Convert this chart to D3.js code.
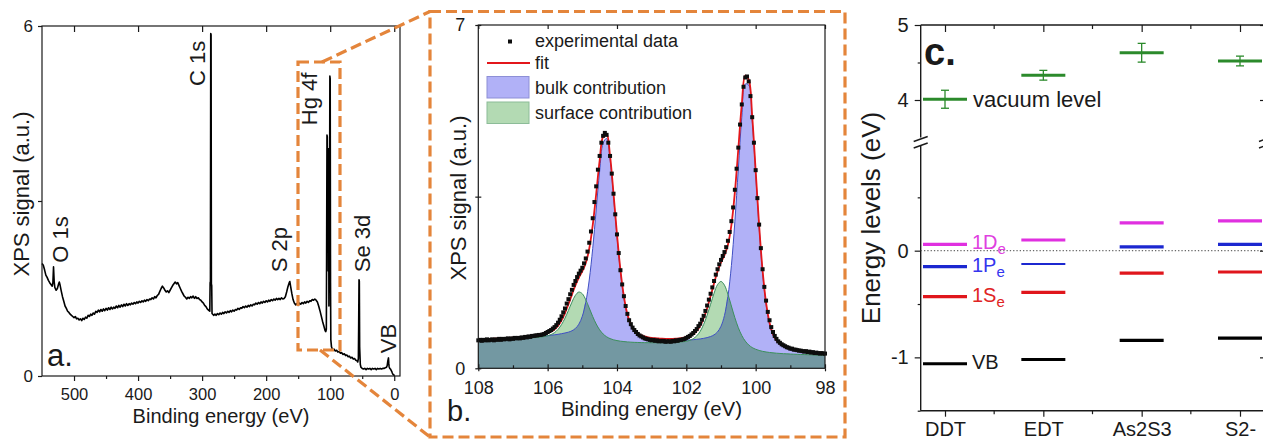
<!DOCTYPE html>
<html>
<head>
<meta charset="utf-8">
<script src="https://cdn.jsdelivr.net/npm/d3@7/dist/d3.min.js"></script>
<style>
  html, body { margin: 0; padding: 0; background: #fff; }
  svg { display: block; }
</style>
</head>
<body>
<svg id="figure" width="1263" height="443"></svg>
<script>
// ---------------- (a) XPS survey spectrum: [binding energy (eV), signal (a.u.)] ----------------
const surveyPoints = [
  [550,1.93],[548,1.90],[546,1.82],[544,1.73],[542,1.69],[540,1.64],[538,1.60],[536,1.57],[534,1.54],[533,1.60],
  [532,1.87],[531,1.62],[530,1.52],[528,1.47],[526,1.50],[524,1.58],[523,1.61],[522,1.57],[520,1.46],[518,1.36],
  [516,1.28],[514,1.20],[512,1.16],[510,1.11],[508,1.09],[506,1.06],[504,1.04],[502,1.02],[500,1.00],[498,1.02],
  [496,0.98],[494,0.99],[492,0.96],[490,0.98],[488,0.95],[486,0.99],[484,0.97],[482,1.01],[480,0.99],[478,1.04],
  [476,1.02],[474,1.06],[472,1.04],[470,1.08],[468,1.06],[466,1.11],[464,1.09],[462,1.13],[460,1.10],[458,1.14],
  [456,1.11],[454,1.15],[452,1.12],[450,1.16],[448,1.13],[446,1.17],[444,1.14],[442,1.18],[440,1.15],[438,1.18],
  [436,1.16],[434,1.20],[432,1.17],[430,1.21],[428,1.18],[426,1.22],[424,1.19],[422,1.23],[420,1.20],[418,1.24],
  [416,1.21],[414,1.24],[412,1.22],[410,1.25],[408,1.23],[406,1.26],[404,1.24],[402,1.27],[400,1.25],[398,1.28],
  [396,1.26],[394,1.29],[392,1.27],[390,1.30],[388,1.28],[386,1.31],[384,1.29],[382,1.32],[380,1.31],[378,1.34],
  [376,1.32],[374,1.36],[372,1.34],[370,1.38],[368,1.40],[366,1.45],[364,1.50],[362,1.54],[360,1.51],[358,1.47],
  [356,1.44],[354,1.46],[352,1.43],[350,1.47],[348,1.51],[346,1.55],[344,1.58],[342,1.61],[340,1.58],[338,1.60],
  [336,1.55],[334,1.50],[332,1.45],[330,1.41],[328,1.37],[326,1.35],[324,1.32],[322,1.35],[320,1.33],[318,1.36],
  [316,1.34],[314,1.37],[312,1.33],[310,1.36],[308,1.33],[306,1.34],[304,1.31],[302,1.30],[300,1.27],[298,1.25],
  [296,1.21],[294,1.19],[292,1.15],[290,1.13],[288,1.11],[287.5,1.60],[287,1.62],[286.5,5.87],[286,5.85],[285.5,1.58],
  [285,1.55],[284.5,1.07],[282,1.04],[280,1.06],[278,1.04],[276,1.07],[274,1.05],[272,1.08],[270,1.06],[268,1.09],
  [266,1.07],[264,1.10],[262,1.08],[260,1.11],[258,1.09],[256,1.12],[254,1.10],[252,1.13],[250,1.11],[248,1.14],
  [246,1.13],[244,1.16],[242,1.14],[240,1.17],[238,1.16],[236,1.19],[234,1.17],[232,1.20],[230,1.18],[228,1.21],
  [226,1.19],[224,1.22],[222,1.20],[220,1.23],[218,1.22],[216,1.25],[214,1.23],[212,1.26],[210,1.24],[208,1.27],
  [206,1.25],[204,1.28],[202,1.26],[200,1.29],[198,1.27],[196,1.30],[194,1.28],[192,1.31],[190,1.29],[188,1.32],
  [186,1.30],[184,1.33],[182,1.31],[180,1.33],[178,1.31],[176,1.34],[174,1.32],[172,1.33],[170,1.36],[168,1.44],
  [166,1.53],[164,1.60],[163,1.62],[162,1.55],[160,1.42],[158,1.31],[156,1.25],[154,1.22],[152,1.24],[150,1.21],
  [148,1.25],[146,1.23],[144,1.26],[142,1.24],[140,1.27],[138,1.25],[136,1.28],[134,1.26],[132,1.29],[130,1.28],
  [128,1.31],[126,1.30],[124,1.32],[122,1.30],[120,1.27],[118,1.20],[116,1.12],[114,1.03],[112,0.94],[110,0.86],
  [108,0.78],[107,0.76],[106,0.80],[105.5,2.40],[105,4.13],[104.5,4.10],[104,2.60],[103.5,3.90],[103,1.80],[102.5,3.80],
  [102,1.20],[101.5,3.90],[101,2.80],[100.5,5.14],[100,5.10],[99.5,1.60],[99,0.62],[98,0.50],[97,0.47],[96,0.45],
  [94,0.46],[92,0.43],[90,0.44],[88,0.41],[86,0.42],[84,0.39],[82,0.40],[80,0.37],[78,0.38],[76,0.35],
  [74,0.36],[72,0.33],[70,0.34],[68,0.31],[66,0.32],[64,0.29],[62,0.30],[60,0.27],[58,0.26],[57,0.24],
  [56,0.30],[55.5,0.90],[55,1.65],[54.5,1.62],[54,0.50],[53,0.20],[52,0.15],[50,0.13],[48,0.12],[46,0.13],
  [44,0.11],[42,0.13],[40,0.12],[38,0.13],[36,0.11],[34,0.13],[32,0.12],[30,0.13],[28,0.11],[26,0.13],
  [24,0.12],[22,0.13],[20,0.12],[18,0.13],[16,0.13],[14,0.14],[12,0.15],[11,0.18],[10,0.26],[9,0.31],
  [8.5,0.22],[8,0.16],[7,0.13],[6,0.12],[5,0.10],[4,0.08],[3,0.05],[2,0.03],[1,0.02],[0,0.01],[-1,0.01]
];
const surveyTicks = [500, 400, 300, 200, 100, 0];
const surveyMinorTicks = [450, 350, 250, 150, 50];
const surveySignalTicks = [0, 3, 6];
const surveyLabels = ['O 1s', 'C 1s', 'S 2p', 'Hg 4f', 'Se 3d', 'VB'];
const surveyLabelEnergy = [509.4, 295.5, 167.4, 120.6, 37.8, -2.8];
const surveyLabelSignal = [1.94, 4.97, 1.78, 4.30, 1.78, 0.39];

// ---------------- (b) Hg 4f core level with bulk / surface components ----------------
const coreEnergy = d3.range(101).map(i => +(108 - i * 0.1).toFixed(2));
const bulkSignal = [
  .584,.586,.589,.591,.594,.597,.600,.604,.607,.610,
  .614,.617,.621,.625,.629,.635,.640,.646,.652,.658,
  .665,.674,.683,.693,.706,.720,.737,.765,.812,.899,
  1.061,1.346,1.801,2.444,3.228,4.019,4.589,4.688,4.267,3.516,
  2.692,1.970,1.432,1.076,.865,.748,.684,.648,.627,.610,
  .599,.591,.584,.578,.574,.572,.570,.570,.571,.572,
  .575,.579,.584,.591,.599,.611,.626,.648,.682,.742,
  .857,1.076,1.465,2.095,2.988,4.063,5.117,5.796,5.776,5.061,
  3.974,2.871,1.955,1.307,.903,.673,.548,.480,.439,.411,
  .390,.373,.359,.348,.338,.329,.320,.313,.307,.301,.296
];
const surfaceSignal = [
  .576,.578,.581,.583,.585,.588,.590,.593,.595,.598,
  .601,.605,.608,.612,.615,.620,.624,.630,.637,.647,
  .663,.688,.728,.793,.891,1.022,1.181,1.349,1.488,1.555,
  1.520,1.397,1.229,1.056,.904,.785,.700,.643,.606,.581,
  .565,.553,.545,.538,.533,.529,.527,.524,.523,.522,
  .521,.521,.522,.522,.523,.525,.527,.529,.534,.541,
  .551,.569,.603,.661,.754,.894,1.082,1.305,1.530,1.705,
  1.771,1.695,1.508,1.270,1.032,.828,.669,.555,.476,.423,
  .389,.364,.346,.333,.323,.315,.308,.303,.298,.295,
  .291,.288,.285,.282,.280,.277,.274,.272,.269,.267,.264
];
const fitSignal = [
  .590,.592,.596,.598,.601,.605,.608,.613,.616,.620,
  .625,.630,.635,.641,.646,.655,.662,.672,.683,.697,
  .718,.750,.797,.871,.981,1.127,1.305,1.503,1.692,1.849,
  1.980,2.147,2.439,2.915,3.554,4.234,4.728,4.779,4.330,3.563,
  2.731,2.003,1.462,1.103,.890,.772,.708,.670,.649,.632,
  .621,.613,.608,.603,.601,.601,.602,.605,.611,.620,
  .634,.657,.697,.763,.866,1.020,1.225,1.473,1.735,1.974,
  2.159,2.308,2.518,2.919,3.586,4.471,5.383,5.966,5.886,5.136,
  4.030,2.915,1.991,1.338,.930,.697,.569,.499,.456,.427,
  .404,.386,.371,.359,.349,.339,.329,.322,.315,.305,.302
];
const dataEnergy = d3.range(201).map(i => +(108 - i * 0.05).toFixed(2));
const dataSignal = [
  .57,.58,.56,.58,.57,.59,.57,.58,.59,.57,
  .59,.58,.60,.58,.60,.59,.60,.61,.59,.61,
  .60,.62,.61,.62,.61,.63,.62,.64,.63,.65,
  .64,.66,.66,.67,.67,.68,.68,.69,.70,.72,
  .74,.76,.78,.81,.84,.88,.93,.99,1.06,1.14,
  1.22,1.32,1.41,1.51,1.60,1.70,1.78,1.86,1.93,1.99,
  2.05,2.14,2.24,2.38,2.56,2.79,3.06,3.39,3.71,4.05,
  4.33,4.60,4.74,4.80,4.76,4.60,4.33,3.97,3.56,3.14,
  2.73,2.35,2.00,1.71,1.47,1.27,1.11,.98,.90,.83,
  .78,.74,.70,.67,.65,.63,.61,.60,.59,.58,
  .57,.58,.56,.57,.55,.56,.55,.56,.54,.55,
  .55,.54,.56,.55,.57,.56,.58,.58,.59,.60,
  .62,.64,.66,.69,.72,.76,.80,.86,.91,.99,
  1.07,1.17,1.28,1.40,1.52,1.65,1.78,1.91,2.02,2.12,
  2.21,2.29,2.37,2.47,2.60,2.78,3.00,3.28,3.64,4.07,
  4.50,4.97,5.38,5.74,5.93,5.95,5.85,5.55,5.12,4.60,
  4.04,3.47,2.93,2.45,2.02,1.66,1.38,1.15,.98,.84,
  .74,.66,.60,.55,.52,.49,.47,.45,.43,.42,
  .40,.40,.38,.38,.37,.36,.36,.35,.34,.35,
  .33,.34,.32,.33,.31,.32,.31,.30,.31,.30,
  .30
];
const coreTicks = [108, 106, 104, 102, 100, 98];
const coreMinorTicks = [107, 105, 103, 101, 99];
const coreSignalTicks = [0, 3.5, 7];
const legendLabels = ['experimental data', 'fit', 'bulk contribution', 'surface contribution'];

// ---------------- (c) energy levels per ligand ----------------
const ligands = ['DDT', 'EDT', 'As2S3', 'S2-'];
const vacuumLevel = [4.01, 4.33, 4.63, 4.52];
const vacuumError = [0.12, 0.065, 0.125, 0.065];
const level1De = [0.06, 0.10, 0.26, 0.28];
const level1Pe = [-0.15, -0.125, 0.035, 0.06];
const level1Se = [-0.43, -0.39, -0.21, -0.20];
const levelVB = [-1.06, -1.02, -0.84, -0.82];
const upperTicks = [4, 5];
const upperMinorTicks = [4.5];
const lowerTicks = [-1, 0];
const lowerMinorTicks = [-1.5, -0.5, 0.5];

// ================================================================
const FONT = '"Liberation Sans", Arial, Helvetica, sans-serif';
const INK = '#1a1a1a';
const ORANGE = '#e4853b';
const svg = d3.select('#figure');

function styleAxis(g, size) {
  g.attr('font-family', FONT).attr('font-size', size);
  g.select('.domain').remove();
  g.selectAll('.tick line').attr('stroke', INK).attr('stroke-width', 1.2);
  g.selectAll('.tick text').attr('fill', INK);
  return g;
}

// ---------------- panel a ----------------
const gA = svg.append('g');
const xA = d3.scaleLinear().domain([550, -9]).range([42, 400]);
const yA = d3.scaleLinear().domain([0, 6]).range([376, 26]);

gA.append('path')
  .datum(surveyPoints)
  .attr('fill', 'none').attr('stroke', '#000').attr('stroke-width', 1.6)
  .attr('stroke-linejoin', 'round')
  .attr('d', d3.line().x(d => xA(d[0])).y(d => yA(d[1])));

gA.append('g').attr('transform', 'translate(0,376)')
  .call(d3.axisBottom(xA).tickValues(surveyTicks).tickSize(5).tickPadding(7.5).tickFormat(d3.format('d')))
  .call(g => styleAxis(g, 16.5));
gA.append('g').attr('transform', 'translate(0,376)')
  .call(d3.axisBottom(xA).tickValues(surveyMinorTicks).tickSize(3).tickFormat(''))
  .call(g => styleAxis(g, 16.5));
gA.append('g').attr('transform', 'translate(0,26)')
  .call(d3.axisTop(xA).tickValues(surveyTicks).tickSize(-6).tickFormat(''))
  .call(g => styleAxis(g, 16.5));
gA.append('g').attr('transform', 'translate(42,0)')
  .call(d3.axisLeft(yA).tickValues(surveySignalTicks).tickSize(4).tickPadding(5)
    .tickFormat(d => (d === 3 ? '' : String(d))))
  .call(g => styleAxis(g, 17));
gA.append('rect').attr('x', 42).attr('y', 26).attr('width', 358).attr('height', 350)
  .attr('fill', 'none').attr('stroke', INK).attr('stroke-width', 1.2);

surveyLabels.forEach((t, i) => {
  gA.append('text')
    .attr('transform', `translate(${xA(surveyLabelEnergy[i])},${yA(surveyLabelSignal[i])}) rotate(-90)`)
    .attr('font-family', FONT).attr('font-size', 22).attr('fill', INK)
    .text(t);
});
gA.append('text').attr('x', 47).attr('y', 366).attr('font-family', FONT)
  .attr('font-size', 31).attr('fill', INK).text('a.');
gA.append('text').attr('x', 221).attr('y', 422.5).attr('text-anchor', 'middle')
  .attr('font-family', FONT).attr('font-size', 20).attr('fill', INK).text('Binding energy (eV)');
gA.append('text').attr('transform', 'translate(29,194) rotate(-90)').attr('text-anchor', 'middle')
  .attr('font-family', FONT).attr('font-size', 22).attr('fill', INK).text('XPS signal (a.u.)');

// ---------------- panel b ----------------
const gB = svg.append('g');
const xB = d3.scaleLinear().domain([108, 98]).range([478.3, 825]);
const yB = d3.scaleLinear().domain([0, 7]).range([368.3, 25]);
const curve = d3.curveCatmullRom.alpha(0.5);
const areaFrom = acc => d3.area().x((d, i) => xB(coreEnergy[i])).y0(yB(0)).y1((d, i) => yB(acc(i))).curve(curve);
const lineFrom = acc => d3.line().x((d, i) => xB(coreEnergy[i])).y((d, i) => yB(acc(i))).curve(curve);

gB.append('path').datum(coreEnergy).attr('fill', '#b1b1f7').attr('d', areaFrom(i => bulkSignal[i]));
gB.append('path').datum(coreEnergy).attr('fill', '#b3dab3').attr('d', areaFrom(i => surfaceSignal[i]));
gB.append('path').datum(coreEnergy).attr('fill', '#7398a2')
  .attr('d', areaFrom(i => Math.min(bulkSignal[i], surfaceSignal[i])));
gB.append('path').datum(coreEnergy).attr('fill', 'none').attr('stroke', '#3f4fc4').attr('stroke-width', 1)
  .attr('d', lineFrom(i => bulkSignal[i]));
gB.append('path').datum(coreEnergy).attr('fill', 'none').attr('stroke', '#3c8e5e').attr('stroke-width', 1)
  .attr('d', lineFrom(i => surfaceSignal[i]));
gB.append('path').datum(coreEnergy).attr('fill', 'none').attr('stroke', '#e3171b').attr('stroke-width', 1.8)
  .attr('d', lineFrom(i => fitSignal[i]));
gB.append('g').selectAll('rect').data(dataSignal).join('rect')
  .attr('x', (d, i) => xB(dataEnergy[i]) - 2).attr('y', d => yB(d) - 2)
  .attr('width', 4).attr('height', 4).attr('fill', '#0d0d0d');

gB.append('g').attr('transform', 'translate(0,368.3)')
  .call(d3.axisBottom(xB).tickValues(coreTicks).tickSize(3).tickPadding(10).tickFormat(d3.format('d')))
  .call(g => styleAxis(g, 18));
gB.append('g').attr('transform', 'translate(0,368.3)')
  .call(d3.axisTop(xB).tickValues(coreTicks).tickSize(4).tickFormat(''))
  .call(g => styleAxis(g, 18));
gB.append('g').attr('transform', 'translate(0,368.3)')
  .call(d3.axisTop(xB).tickValues(coreMinorTicks).tickSize(3).tickFormat(''))
  .call(g => styleAxis(g, 18));
gB.append('g').attr('transform', 'translate(0,25)')
  .call(d3.axisTop(xB).tickValues(coreTicks).tickSize(-4).tickFormat(''))
  .call(g => styleAxis(g, 18));
gB.append('g').attr('transform', 'translate(478.3,0)')
  .call(d3.axisLeft(yB).tickValues(coreSignalTicks).tickSize(3).tickPadding(10)
    .tickFormat(d => (d === 3.5 ? '' : String(d))))
  .call(g => styleAxis(g, 18));
gB.append('g').attr('transform', 'translate(478.3,0)')
  .call(d3.axisRight(yB).tickValues(coreSignalTicks).tickSize(3).tickFormat(''))
  .call(g => styleAxis(g, 18));
gB.append('rect').attr('x', 478.3).attr('y', 25).attr('width', 346.7).attr('height', 343.3)
  .attr('fill', 'none').attr('stroke', INK).attr('stroke-width', 1.2);

// legend
const legend = gB.append('g').attr('font-family', FONT).attr('font-size', 18).attr('fill', INK);
legend.append('rect').attr('x', 508).attr('y', 39.5).attr('width', 4).attr('height', 4).attr('fill', '#0d0d0d');
legend.append('line').attr('x1', 487).attr('x2', 530).attr('y1', 63).attr('y2', 63)
  .attr('stroke', '#e3171b').attr('stroke-width', 1.8);
legend.append('rect').attr('x', 487).attr('y', 76.5).attr('width', 42).attr('height', 21.5)
  .attr('fill', '#b1b1f7').attr('stroke', '#8d8fd6').attr('stroke-width', 1);
legend.append('rect').attr('x', 487).attr('y', 102).attr('width', 42).attr('height', 21.5)
  .attr('fill', '#b3dab3').attr('stroke', '#8cbc98').attr('stroke-width', 1);
const legendY = [47, 69, 94, 119];
legendLabels.forEach((t, i) => {
  legend.append('text').attr('x', 535).attr('y', legendY[i]).text(t);
});

gB.append('text').attr('x', 447).attr('y', 421).attr('font-family', FONT)
  .attr('font-size', 29).attr('fill', INK).text('b.');
gB.append('text').attr('x', 651.5).attr('y', 416).attr('text-anchor', 'middle')
  .attr('font-family', FONT).attr('font-size', 20.5).attr('fill', INK).text('Binding energy (eV)');
gB.append('text').attr('transform', 'translate(466,198) rotate(-90)').attr('text-anchor', 'middle')
  .attr('font-family', FONT).attr('font-size', 22).attr('fill', INK).text('XPS signal (a.u.)');

// ---------------- panel c ----------------
const gC = svg.append('g');
const xC = d3.scalePoint().domain(ligands).range([945, 1240]);
const yUp = d3.scaleLinear().domain([3.5, 5]).range([137.5, 25]);
const yLow = d3.scaleLinear().domain([-1.5, 1.0]).range([410.7, 144]);
const cLeft = 920.7, cRight = 1266, cTop = 25, cBottom = 410.7;

// frame pieces
gC.append('line').attr('x1', cLeft).attr('x2', cRight).attr('y1', cTop).attr('y2', cTop)
  .attr('stroke', INK).attr('stroke-width', 1.4);
gC.append('line').attr('x1', cLeft).attr('x2', cRight).attr('y1', cBottom).attr('y2', cBottom)
  .attr('stroke', INK).attr('stroke-width', 1.4);
[cLeft, cRight].forEach(x => {
  gC.append('line').attr('x1', x).attr('x2', x).attr('y1', cTop).attr('y2', yUp(3.5))
    .attr('stroke', INK).attr('stroke-width', 1.4);
  gC.append('line').attr('x1', x).attr('x2', x).attr('y1', yLow(1.0) + 1).attr('y2', cBottom)
    .attr('stroke', INK).attr('stroke-width', 1.4);
  [yUp(3.5) + 1.5, yLow(1.0) + 1.5].forEach(y => {
    gC.append('line').attr('x1', x - 7).attr('x2', x + 7).attr('y1', y + 2.5).attr('y2', y - 2.5)
      .attr('stroke', INK).attr('stroke-width', 1.5);
  });
});

// zero reference
gC.append('line').attr('x1', cLeft).attr('x2', cRight).attr('y1', yLow(0)).attr('y2', yLow(0))
  .attr('stroke', '#6a6a6a').attr('stroke-width', 1.2).attr('stroke-dasharray', '1.3,2');

// axes
gC.append('g').attr('transform', `translate(0,${cBottom})`)
  .call(d3.axisBottom(xC).tickSize(6).tickPadding(5))
  .call(g => styleAxis(g, 20));
const midpoints = ligands.slice(0, -1).map(d => xC(d) + xC.step() / 2);
gC.append('g').selectAll('line').data(midpoints).join('line')
  .attr('x1', d => d).attr('x2', d => d).attr('y1', cBottom).attr('y2', cBottom + 3.5)
  .attr('stroke', INK).attr('stroke-width', 1.2);
gC.append('g').selectAll('line').data(midpoints).join('line')
  .attr('x1', d => d).attr('x2', d => d).attr('y1', cTop).attr('y2', cTop + 4)
  .attr('stroke', INK).attr('stroke-width', 1.2);
gC.append('g').attr('transform', `translate(0,${cTop})`)
  .call(d3.axisTop(xC).tickSize(-7).tickFormat(''))
  .call(g => styleAxis(g, 20));
gC.append('g').attr('transform', `translate(${cLeft},0)`)
  .call(d3.axisLeft(yUp).tickValues(upperTicks).tickSize(6).tickPadding(6).tickFormat(d => String(d)))
  .call(g => styleAxis(g, 20));
gC.append('g').attr('transform', `translate(${cLeft},0)`)
  .call(d3.axisLeft(yUp).tickValues(upperMinorTicks).tickSize(3).tickFormat(''))
  .call(g => styleAxis(g, 20));
gC.append('g').attr('transform', `translate(${cLeft},0)`)
  .call(d3.axisLeft(yLow).tickValues(lowerTicks).tickSize(6).tickPadding(6).tickFormat(d => String(d)))
  .call(g => styleAxis(g, 20));
gC.append('g').attr('transform', `translate(${cLeft},0)`)
  .call(d3.axisLeft(yLow).tickValues(lowerMinorTicks).tickSize(3).tickFormat(''))
  .call(g => styleAxis(g, 20));
gC.append('g').attr('transform', `translate(${cRight},0)`)
  .call(d3.axisRight(yUp).tickValues(upperTicks).tickSize(-6).tickFormat(''))
  .call(g => styleAxis(g, 20));
gC.append('g').attr('transform', `translate(${cRight},0)`)
  .call(d3.axisRight(yLow).tickValues(lowerTicks).tickSize(-6).tickFormat(''))
  .call(g => styleAxis(g, 20));

// vacuum level with error bars
const GREEN = '#2b8a2b';
const halfW = 22;
ligands.forEach((d, i) => {
  const cx = xC(d);
  const gv = gC.append('g').attr('stroke', GREEN);
  gv.append('line').attr('x1', cx).attr('x2', cx)
    .attr('y1', yUp(vacuumLevel[i] + vacuumError[i])).attr('y2', yUp(vacuumLevel[i] - vacuumError[i]))
    .attr('stroke-width', 1.3);
  [vacuumLevel[i] + vacuumError[i], vacuumLevel[i] - vacuumError[i]].forEach(v => {
    gv.append('line').attr('x1', cx - 4).attr('x2', cx + 4).attr('y1', yUp(v)).attr('y2', yUp(v))
      .attr('stroke-width', 1.3);
  });
  gv.append('line').attr('x1', cx - halfW).attr('x2', cx + halfW)
    .attr('y1', yUp(vacuumLevel[i])).attr('y2', yUp(vacuumLevel[i])).attr('stroke-width', 3);
});

// quantum-confined levels
const levelSets = [
  { values: level1De, color: '#e030e0' },
  { values: level1Pe, color: '#1c28d0' },
  { values: level1Se, color: '#e0161c' },
  { values: levelVB, color: '#000000' }
];
levelSets.forEach(set => {
  ligands.forEach((d, i) => {
    const thin = set.values === level1Pe && d === 'EDT';
    gC.append('line').attr('x1', xC(d) - halfW).attr('x2', xC(d) + halfW)
      .attr('y1', yLow(set.values[i])).attr('y2', yLow(set.values[i]))
      .attr('stroke', set.color).attr('stroke-width', thin ? 2 : 3.2);
  });
});

// level labels next to the first ligand
const labelX = xC('DDT') + 27;
const labelDefs = [
  { main: '1D', sub: 'e', value: level1De[0], color: '#e040e0' },
  { main: '1P', sub: 'e', value: level1Pe[0], color: '#3535ee' },
  { main: '1S', sub: 'e', value: level1Se[0], color: '#e02424' },
  { main: 'VB', sub: '', value: levelVB[0], color: INK }
];
labelDefs.forEach(l => {
  const t = gC.append('text').attr('x', labelX).attr('y', yLow(l.value) + 5)
    .attr('font-family', FONT).attr('font-size', 20).attr('fill', l.color);
  t.append('tspan').text(l.main);
  if (l.sub) t.append('tspan').attr('font-size', 15).attr('dy', 5).text(l.sub);
});
gC.append('text').attr('x', 973).attr('y', yUp(vacuumLevel[0]) + 8)
  .attr('font-family', FONT).attr('font-size', 22).attr('fill', INK).text('vacuum level');
gC.append('text').attr('x', 924).attr('y', 65).attr('font-family', FONT)
  .attr('font-size', 38).attr('font-weight', 'bold').attr('fill', INK).text('c.');
gC.append('text').attr('transform', 'translate(880,218) rotate(-90)').attr('text-anchor', 'middle')
  .attr('font-family', FONT).attr('font-size', 26).attr('fill', INK).text('Energy levels (eV)');

// ---------------- zoom-region outlines ----------------
const gO = svg.append('g').attr('fill', 'none').attr('stroke', ORANGE)
  .attr('stroke-width', 3.2).attr('stroke-dasharray', '11,5');
gO.append('rect').attr('x', 298).attr('y', 62).attr('width', 42).attr('height', 288);
gO.append('line').attr('x1', 322).attr('y1', 62).attr('x2', 430).attr('y2', 11.5);
gO.append('line').attr('x1', 320).attr('y1', 350).attr('x2', 430).attr('y2', 437);
gO.append('rect').attr('x', 430).attr('y', 11.5).attr('width', 415).attr('height', 425.5);
</script>
</body>
</html>
